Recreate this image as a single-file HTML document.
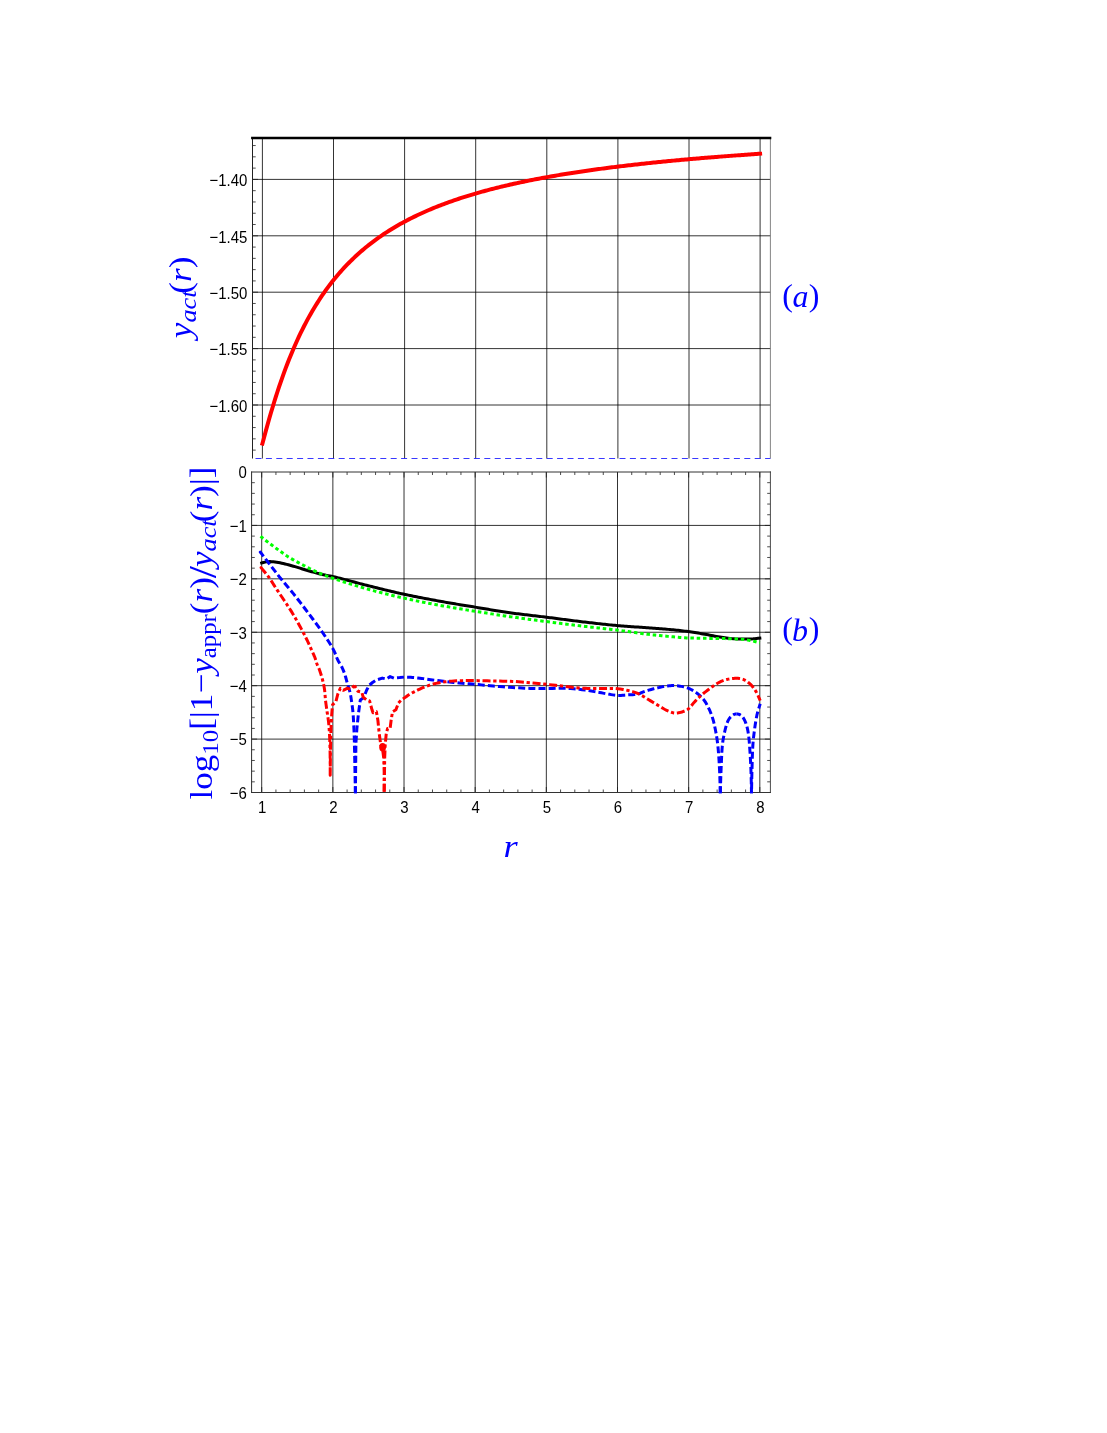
<!DOCTYPE html>
<html><head><meta charset="utf-8"><title>plot</title>
<style>html,body{margin:0;padding:0;background:#fff}svg{display:block;will-change:transform}
text{font-family:"Liberation Sans",sans-serif}
.s{font-family:"Liberation Serif",serif}
</style></head><body>
<svg width="1107" height="1433" viewBox="0 0 1107 1433">
<rect width="1107" height="1433" fill="#fff"/>
<line x1="262.4" y1="138.0" x2="262.4" y2="458.5" stroke="#000" stroke-width="0.8"/>
<line x1="333.5" y1="138.0" x2="333.5" y2="458.5" stroke="#000" stroke-width="0.8"/>
<line x1="404.6" y1="138.0" x2="404.6" y2="458.5" stroke="#000" stroke-width="0.8"/>
<line x1="475.7" y1="138.0" x2="475.7" y2="458.5" stroke="#000" stroke-width="0.8"/>
<line x1="546.8" y1="138.0" x2="546.8" y2="458.5" stroke="#000" stroke-width="0.8"/>
<line x1="617.9" y1="138.0" x2="617.9" y2="458.5" stroke="#000" stroke-width="0.8"/>
<line x1="689" y1="138.0" x2="689" y2="458.5" stroke="#000" stroke-width="0.8"/>
<line x1="760.1" y1="138.0" x2="760.1" y2="458.5" stroke="#000" stroke-width="0.8"/>
<line x1="252.5" y1="179.4" x2="770.4" y2="179.4" stroke="#000" stroke-width="0.8"/>
<line x1="252.5" y1="235.8" x2="770.4" y2="235.8" stroke="#000" stroke-width="0.8"/>
<line x1="252.5" y1="292.2" x2="770.4" y2="292.2" stroke="#000" stroke-width="0.8"/>
<line x1="252.5" y1="348.6" x2="770.4" y2="348.6" stroke="#000" stroke-width="0.8"/>
<line x1="252.5" y1="405" x2="770.4" y2="405" stroke="#000" stroke-width="0.8"/>
<path d="M252.5 450.12h3.2M252.5 438.84h3.2M252.5 427.56h3.2M252.5 416.28h3.2M252.5 405h5.5M252.5 393.72h3.2M252.5 382.44h3.2M252.5 371.16h3.2M252.5 359.88h3.2M252.5 348.6h5.5M252.5 337.32h3.2M252.5 326.04h3.2M252.5 314.76h3.2M252.5 303.48h3.2M252.5 292.2h5.5M252.5 280.92h3.2M252.5 269.64h3.2M252.5 258.36h3.2M252.5 247.08h3.2M252.5 235.8h5.5M252.5 224.52h3.2M252.5 213.24h3.2M252.5 201.96h3.2M252.5 190.68h3.2M252.5 179.4h5.5M252.5 168.12h3.2M252.5 156.84h3.2M252.5 145.56h3.2" stroke="#1a1a1a" stroke-width="0.78" fill="none"/>
<line x1="252.5" y1="138.0" x2="252.5" y2="458.5" stroke="#222" stroke-width="1"/>
<line x1="770.4" y1="138.0" x2="770.4" y2="458.5" stroke="#777" stroke-width="0.9"/>
<line x1="255.5" y1="458.5" x2="770.4" y2="458.5" stroke="#2222ff" stroke-width="0.9" stroke-dasharray="6 4.4"/>
<line x1="251.1" y1="138.0" x2="771.3" y2="138.0" stroke="#000" stroke-width="2.3"/>
<path d="M262.4 443.68 L264.06 437.4 L265.73 431.24 L267.39 425.21 L269.06 419.31 L270.72 413.56 L272.39 407.95 L274.05 402.49 L275.72 397.17 L277.38 391.99 L279.05 386.96 L280.71 382.06 L282.37 377.3 L284.04 372.67 L285.7 368.17 L287.37 363.8 L289.03 359.55 L290.7 355.42 L292.36 351.41 L294.03 347.51 L295.69 343.72 L297.36 340.03 L299.02 336.45 L300.68 332.96 L302.35 329.57 L304.01 326.27 L305.68 323.06 L307.34 319.93 L309.01 316.89 L310.67 313.93 L312.34 311.04 L314 308.23 L315.67 305.49 L317.33 302.83 L318.99 300.23 L320.66 297.69 L322.32 295.22 L323.99 292.81 L325.65 290.45 L327.32 288.16 L328.98 285.92 L330.65 283.73 L332.31 281.6 L333.98 279.51 L335.64 277.47 L337.3 275.48 L338.97 273.54 L340.63 271.64 L342.3 269.78 L343.96 267.96 L345.63 266.19 L347.29 264.45 L348.96 262.75 L350.62 261.08 L352.29 259.45 L353.95 257.86 L355.61 256.3 L357.28 254.77 L358.94 253.27 L360.61 251.8 L362.27 250.37 L363.94 248.96 L365.6 247.58 L367.27 246.22 L368.93 244.9 L370.6 243.59 L372.26 242.32 L373.92 241.07 L375.59 239.84 L377.25 238.63 L378.92 237.45 L380.58 236.29 L382.25 235.15 L383.91 234.03 L385.58 232.93 L387.24 231.85 L388.91 230.79 L390.57 229.75 L392.23 228.73 L393.9 227.72 L395.56 226.73 L397.23 225.76 L398.89 224.8 L400.56 223.87 L402.22 222.94 L403.89 222.03 L405.55 221.14 L407.22 220.26 L408.88 219.4 L410.54 218.55 L412.21 217.71 L413.87 216.89 L415.54 216.08 L417.2 215.28 L418.87 214.5 L420.53 213.72 L422.2 212.96 L423.86 212.21 L425.53 211.47 L427.19 210.75 L428.85 210.03 L430.52 209.32 L432.18 208.63 L433.85 207.94 L435.51 207.27 L437.18 206.6 L438.84 205.94 L440.51 205.3 L442.17 204.66 L443.84 204.03 L445.5 203.41 L447.16 202.8 L448.83 202.2 L450.49 201.6 L452.16 201.02 L453.82 200.44 L455.49 199.87 L457.15 199.3 L458.82 198.75 L460.48 198.2 L462.15 197.66 L463.81 197.12 L465.47 196.6 L467.14 196.08 L468.8 195.56 L470.47 195.06 L472.13 194.55 L473.8 194.06 L475.46 193.57 L477.13 193.09 L478.79 192.61 L480.46 192.14 L482.12 191.68 L483.78 191.22 L485.45 190.77 L487.11 190.32 L488.78 189.88 L490.44 189.44 L492.11 189.01 L493.77 188.58 L495.44 188.16 L497.1 187.74 L498.77 187.33 L500.43 186.92 L502.09 186.52 L503.76 186.12 L505.42 185.72 L507.09 185.33 L508.75 184.95 L510.42 184.57 L512.08 184.19 L513.75 183.82 L515.41 183.45 L517.08 183.09 L518.74 182.73 L520.41 182.37 L522.07 182.02 L523.73 181.67 L525.4 181.32 L527.06 180.98 L528.73 180.64 L530.39 180.31 L532.06 179.98 L533.72 179.65 L535.39 179.33 L537.05 179.01 L538.72 178.69 L540.38 178.37 L542.04 178.06 L543.71 177.75 L545.37 177.45 L547.04 177.15 L548.7 176.85 L550.37 176.55 L552.03 176.26 L553.7 175.97 L555.36 175.68 L557.03 175.4 L558.69 175.12 L560.35 174.84 L562.02 174.56 L563.68 174.29 L565.35 174.02 L567.01 173.75 L568.68 173.48 L570.34 173.22 L572.01 172.96 L573.67 172.7 L575.34 172.44 L577 172.19 L578.66 171.94 L580.33 171.69 L581.99 171.44 L583.66 171.2 L585.32 170.95 L586.99 170.71 L588.65 170.48 L590.32 170.24 L591.98 170 L593.65 169.77 L595.31 169.54 L596.97 169.32 L598.64 169.09 L600.3 168.87 L601.97 168.64 L603.63 168.42 L605.3 168.2 L606.96 167.99 L608.63 167.77 L610.29 167.56 L611.96 167.35 L613.62 167.14 L615.28 166.93 L616.95 166.73 L618.61 166.52 L620.28 166.32 L621.94 166.12 L623.61 165.92 L625.27 165.72 L626.94 165.53 L628.6 165.33 L630.27 165.14 L631.93 164.95 L633.59 164.76 L635.26 164.57 L636.92 164.39 L638.59 164.2 L640.25 164.02 L641.92 163.83 L643.58 163.65 L645.25 163.47 L646.91 163.3 L648.58 163.12 L650.24 162.94 L651.9 162.77 L653.57 162.6 L655.23 162.43 L656.9 162.26 L658.56 162.09 L660.23 161.92 L661.89 161.75 L663.56 161.59 L665.22 161.43 L666.89 161.26 L668.55 161.1 L670.21 160.94 L671.88 160.78 L673.54 160.63 L675.21 160.47 L676.87 160.31 L678.54 160.16 L680.2 160.01 L681.87 159.85 L683.53 159.7 L685.2 159.55 L686.86 159.4 L688.52 159.26 L690.19 159.11 L691.85 158.96 L693.52 158.82 L695.18 158.68 L696.85 158.53 L698.51 158.39 L700.18 158.25 L701.84 158.11 L703.51 157.97 L705.17 157.83 L706.83 157.7 L708.5 157.56 L710.16 157.43 L711.83 157.29 L713.49 157.16 L715.16 157.03 L716.82 156.89 L718.49 156.76 L720.15 156.63 L721.82 156.51 L723.48 156.38 L725.14 156.25 L726.81 156.12 L728.47 156 L730.14 155.87 L731.8 155.75 L733.47 155.63 L735.13 155.5 L736.8 155.38 L738.46 155.26 L740.13 155.14 L741.79 155.02 L743.45 154.91 L745.12 154.79 L746.78 154.67 L748.45 154.55 L750.11 154.44 L751.78 154.32 L753.44 154.21 L755.11 154.1 L756.77 153.98 L758.44 153.87 L760.1 153.76" stroke="#ff0000" stroke-width="4" fill="none" stroke-linejoin="round" stroke-linecap="square"/>
<line x1="261.7" y1="472.0" x2="261.7" y2="792.5" stroke="#000" stroke-width="0.8"/>
<line x1="332.86" y1="472.0" x2="332.86" y2="792.5" stroke="#000" stroke-width="0.8"/>
<line x1="404.02" y1="472.0" x2="404.02" y2="792.5" stroke="#000" stroke-width="0.8"/>
<line x1="475.18" y1="472.0" x2="475.18" y2="792.5" stroke="#000" stroke-width="0.8"/>
<line x1="546.34" y1="472.0" x2="546.34" y2="792.5" stroke="#000" stroke-width="0.8"/>
<line x1="617.5" y1="472.0" x2="617.5" y2="792.5" stroke="#000" stroke-width="0.8"/>
<line x1="688.66" y1="472.0" x2="688.66" y2="792.5" stroke="#000" stroke-width="0.8"/>
<line x1="759.82" y1="472.0" x2="759.82" y2="792.5" stroke="#000" stroke-width="0.8"/>
<line x1="251.6" y1="739.1" x2="770.4" y2="739.1" stroke="#000" stroke-width="0.8"/>
<line x1="251.6" y1="685.68" x2="770.4" y2="685.68" stroke="#000" stroke-width="0.8"/>
<line x1="251.6" y1="632.26" x2="770.4" y2="632.26" stroke="#000" stroke-width="0.8"/>
<line x1="251.6" y1="578.84" x2="770.4" y2="578.84" stroke="#000" stroke-width="0.8"/>
<line x1="251.6" y1="525.42" x2="770.4" y2="525.42" stroke="#000" stroke-width="0.8"/>
<path d="M261.7 792.5v-5.5M261.7 472.0v5.5M275.93 792.5v-3.0M275.93 472.0v3.0M290.16 792.5v-3.0M290.16 472.0v3.0M304.4 792.5v-3.0M304.4 472.0v3.0M318.63 792.5v-3.0M318.63 472.0v3.0M332.86 792.5v-5.5M332.86 472.0v5.5M347.09 792.5v-3.0M347.09 472.0v3.0M361.32 792.5v-3.0M361.32 472.0v3.0M375.56 792.5v-3.0M375.56 472.0v3.0M389.79 792.5v-3.0M389.79 472.0v3.0M404.02 792.5v-5.5M404.02 472.0v5.5M418.25 792.5v-3.0M418.25 472.0v3.0M432.48 792.5v-3.0M432.48 472.0v3.0M446.72 792.5v-3.0M446.72 472.0v3.0M460.95 792.5v-3.0M460.95 472.0v3.0M475.18 792.5v-5.5M475.18 472.0v5.5M489.41 792.5v-3.0M489.41 472.0v3.0M503.64 792.5v-3.0M503.64 472.0v3.0M517.88 792.5v-3.0M517.88 472.0v3.0M532.11 792.5v-3.0M532.11 472.0v3.0M546.34 792.5v-5.5M546.34 472.0v5.5M560.57 792.5v-3.0M560.57 472.0v3.0M574.8 792.5v-3.0M574.8 472.0v3.0M589.04 792.5v-3.0M589.04 472.0v3.0M603.27 792.5v-3.0M603.27 472.0v3.0M617.5 792.5v-5.5M617.5 472.0v5.5M631.73 792.5v-3.0M631.73 472.0v3.0M645.96 792.5v-3.0M645.96 472.0v3.0M660.2 792.5v-3.0M660.2 472.0v3.0M674.43 792.5v-3.0M674.43 472.0v3.0M688.66 792.5v-5.5M688.66 472.0v5.5M702.89 792.5v-3.0M702.89 472.0v3.0M717.12 792.5v-3.0M717.12 472.0v3.0M731.36 792.5v-3.0M731.36 472.0v3.0M745.59 792.5v-3.0M745.59 472.0v3.0M759.82 792.5v-5.5M759.82 472.0v5.5M251.6 482.68h3.2M770.4 482.68h-3.2M251.6 493.37h3.2M770.4 493.37h-3.2M251.6 504.05h3.2M770.4 504.05h-3.2M251.6 514.74h3.2M770.4 514.74h-3.2M251.6 525.42h5.5M770.4 525.42h-5.5M251.6 536.1h3.2M770.4 536.1h-3.2M251.6 546.79h3.2M770.4 546.79h-3.2M251.6 557.47h3.2M770.4 557.47h-3.2M251.6 568.16h3.2M770.4 568.16h-3.2M251.6 578.84h5.5M770.4 578.84h-5.5M251.6 589.52h3.2M770.4 589.52h-3.2M251.6 600.21h3.2M770.4 600.21h-3.2M251.6 610.89h3.2M770.4 610.89h-3.2M251.6 621.58h3.2M770.4 621.58h-3.2M251.6 632.26h5.5M770.4 632.26h-5.5M251.6 642.94h3.2M770.4 642.94h-3.2M251.6 653.63h3.2M770.4 653.63h-3.2M251.6 664.31h3.2M770.4 664.31h-3.2M251.6 675h3.2M770.4 675h-3.2M251.6 685.68h5.5M770.4 685.68h-5.5M251.6 696.36h3.2M770.4 696.36h-3.2M251.6 707.05h3.2M770.4 707.05h-3.2M251.6 717.73h3.2M770.4 717.73h-3.2M251.6 728.42h3.2M770.4 728.42h-3.2M251.6 739.1h5.5M770.4 739.1h-5.5M251.6 749.78h3.2M770.4 749.78h-3.2M251.6 760.47h3.2M770.4 760.47h-3.2M251.6 771.15h3.2M770.4 771.15h-3.2M251.6 781.84h3.2M770.4 781.84h-3.2" stroke="#1a1a1a" stroke-width="0.78" fill="none"/>
<path d="M251.6 471.5V793.0" stroke="#2a2a2a" stroke-width="1" fill="none"/>
<path d="M770.4 471.5V793.0" stroke="#4a4a4a" stroke-width="1" fill="none"/>
<path d="M251.1 472.0H770.9M251.1 792.5H770.9" stroke="#333" stroke-width="1" fill="none"/>
<path d="M261.7 562.97 L263.37 562.5 L265.03 562.12 L266.7 561.85 L268.36 561.64 L270.03 561.59 L271.7 561.65 L273.36 561.76 L275.03 561.9 L276.69 562.16 L278.36 562.49 L280.03 562.82 L281.69 563.18 L283.36 563.56 L285.02 563.97 L286.69 564.39 L288.36 564.82 L290.02 565.27 L291.69 565.72 L293.35 566.18 L295.02 566.65 L296.69 567.15 L298.35 567.66 L300.02 568.19 L301.68 568.73 L303.35 569.26 L305.01 569.78 L306.68 570.28 L308.35 570.77 L310.01 571.24 L311.68 571.71 L313.34 572.18 L315.01 572.63 L316.68 573.08 L318.34 573.51 L320.01 573.93 L321.67 574.33 L323.34 574.7 L325.01 575.04 L326.67 575.37 L328.34 575.68 L330 576 L331.67 576.34 L333.34 576.7 L335 577.08 L336.67 577.47 L338.33 577.88 L340 578.29 L341.67 578.71 L343.33 579.14 L345 579.58 L346.66 580.02 L348.33 580.47 L350 580.92 L351.66 581.37 L353.33 581.82 L354.99 582.27 L356.66 582.72 L358.33 583.16 L359.99 583.6 L361.66 584.04 L363.32 584.47 L364.99 584.89 L366.66 585.3 L368.32 585.72 L369.99 586.13 L371.65 586.55 L373.32 586.96 L374.98 587.37 L376.65 587.79 L378.32 588.2 L379.98 588.61 L381.65 589.02 L383.31 589.43 L384.98 589.84 L386.65 590.24 L388.31 590.64 L389.98 591.04 L391.64 591.43 L393.31 591.82 L394.98 592.21 L396.64 592.59 L398.31 592.97 L399.97 593.34 L401.64 593.71 L403.31 594.07 L404.97 594.43 L406.64 594.78 L408.3 595.13 L409.97 595.48 L411.64 595.82 L413.3 596.16 L414.97 596.5 L416.63 596.83 L418.3 597.16 L419.97 597.49 L421.63 597.81 L423.3 598.14 L424.96 598.46 L426.63 598.77 L428.3 599.09 L429.96 599.4 L431.63 599.71 L433.29 600.02 L434.96 600.32 L436.63 600.63 L438.29 600.93 L439.96 601.23 L441.62 601.53 L443.29 601.83 L444.95 602.12 L446.62 602.41 L448.29 602.7 L449.95 602.98 L451.62 603.27 L453.28 603.55 L454.95 603.83 L456.62 604.11 L458.28 604.38 L459.95 604.66 L461.61 604.93 L463.28 605.2 L464.95 605.48 L466.61 605.75 L468.28 606.02 L469.94 606.29 L471.61 606.57 L473.28 606.84 L474.94 607.11 L476.61 607.39 L478.27 607.66 L479.94 607.94 L481.61 608.22 L483.27 608.5 L484.94 608.78 L486.6 609.06 L488.27 609.34 L489.94 609.62 L491.6 609.9 L493.27 610.17 L494.93 610.45 L496.6 610.72 L498.27 610.99 L499.93 611.25 L501.6 611.52 L503.26 611.77 L504.93 612.03 L506.6 612.27 L508.26 612.52 L509.93 612.75 L511.59 612.98 L513.26 613.21 L514.92 613.43 L516.59 613.64 L518.26 613.86 L519.92 614.06 L521.59 614.27 L523.25 614.47 L524.92 614.67 L526.59 614.86 L528.25 615.06 L529.92 615.25 L531.58 615.45 L533.25 615.64 L534.92 615.83 L536.58 616.03 L538.25 616.22 L539.91 616.42 L541.58 616.62 L543.25 616.82 L544.91 617.02 L546.58 617.23 L548.24 617.43 L549.91 617.65 L551.58 617.86 L553.24 618.07 L554.91 618.29 L556.57 618.51 L558.24 618.73 L559.91 618.94 L561.57 619.16 L563.24 619.38 L564.9 619.6 L566.57 619.82 L568.24 620.03 L569.9 620.25 L571.57 620.46 L573.23 620.68 L574.9 620.88 L576.57 621.09 L578.23 621.3 L579.9 621.5 L581.56 621.69 L583.23 621.89 L584.89 622.08 L586.56 622.28 L588.23 622.48 L589.89 622.67 L591.56 622.86 L593.22 623.06 L594.89 623.25 L596.56 623.44 L598.22 623.63 L599.89 623.81 L601.55 624 L603.22 624.18 L604.89 624.35 L606.55 624.53 L608.22 624.7 L609.88 624.87 L611.55 625.03 L613.22 625.19 L614.88 625.35 L616.55 625.5 L618.21 625.64 L619.88 625.78 L621.55 625.92 L623.21 626.05 L624.88 626.18 L626.54 626.3 L628.21 626.43 L629.88 626.55 L631.54 626.66 L633.21 626.78 L634.87 626.89 L636.54 627.01 L638.21 627.12 L639.87 627.24 L641.54 627.36 L643.2 627.47 L644.87 627.59 L646.54 627.71 L648.2 627.84 L649.87 627.97 L651.53 628.09 L653.2 628.21 L654.86 628.34 L656.53 628.46 L658.2 628.58 L659.86 628.71 L661.53 628.83 L663.19 628.96 L664.86 629.09 L666.53 629.23 L668.19 629.37 L669.86 629.51 L671.52 629.66 L673.19 629.82 L674.86 629.98 L676.52 630.16 L678.19 630.33 L679.85 630.52 L681.52 630.71 L683.19 630.91 L684.85 631.12 L686.52 631.33 L688.18 631.55 L689.85 631.78 L691.52 632.03 L693.18 632.28 L694.85 632.54 L696.51 632.82 L698.18 633.09 L699.85 633.38 L701.51 633.67 L703.18 633.95 L704.84 634.24 L706.51 634.53 L708.18 634.84 L709.84 635.16 L711.51 635.49 L713.17 635.83 L714.84 636.16 L716.51 636.47 L718.17 636.77 L719.84 637.04 L721.5 637.28 L723.17 637.5 L724.83 637.73 L726.5 637.95 L728.17 638.17 L729.83 638.37 L731.5 638.56 L733.16 638.71 L734.83 638.83 L736.5 638.91 L738.16 638.94 L739.83 638.94 L741.49 638.94 L743.16 638.94 L744.83 638.94 L746.49 638.94 L748.16 638.94 L749.82 638.94 L751.49 638.9 L753.16 638.81 L754.82 638.67 L756.49 638.51 L758.15 638.33 L759.82 638.14" stroke="#000" stroke-width="3" fill="none" stroke-linejoin="round" stroke-linecap="square"/>
<path d="M260.52 536.35 L261.7 537.28 L263.37 538.6 L265.03 539.9 L266.7 541.19 L268.36 542.47 L270.03 543.73 L271.7 544.99 L273.36 546.23 L275.03 547.47 L276.69 548.69 L278.36 549.91 L280.03 551.12 L281.69 552.33 L283.36 553.53 L285.02 554.7 L286.69 555.84 L288.36 556.91 L290.02 557.93 L291.69 558.9 L293.35 559.84 L295.02 560.76 L296.69 561.66 L298.35 562.56 L300.02 563.46 L301.68 564.37 L303.35 565.28 L305.01 566.19 L306.68 567.08 L308.35 567.94 L310.01 568.77 L311.68 569.57 L313.34 570.35 L315.01 571.11 L316.68 571.86 L318.34 572.59 L320.01 573.31 L321.67 574.01 L323.34 574.7 L325.01 575.38 L326.67 576.04 L328.34 576.68 L330 577.31 L331.67 577.9 L333.34 578.47 L335 579.02 L336.67 579.58 L338.33 580.13 L340 580.68 L341.67 581.22 L343.33 581.76 L345 582.3 L346.66 582.83 L348.33 583.36 L350 583.88 L351.66 584.4 L353.33 584.91 L354.99 585.42 L356.66 585.92 L358.33 586.42 L359.99 586.91 L361.66 587.4 L363.32 587.88 L364.99 588.35 L366.66 588.81 L368.32 589.27 L369.99 589.73 L371.65 590.18 L373.32 590.63 L374.98 591.08 L376.65 591.52 L378.32 591.96 L379.98 592.39 L381.65 592.82 L383.31 593.24 L384.98 593.67 L386.65 594.08 L388.31 594.5 L389.98 594.9 L391.64 595.31 L393.31 595.71 L394.98 596.1 L396.64 596.5 L398.31 596.88 L399.97 597.27 L401.64 597.64 L403.31 598.02 L404.97 598.39 L406.64 598.75 L408.3 599.12 L409.97 599.47 L411.64 599.83 L413.3 600.18 L414.97 600.52 L416.63 600.86 L418.3 601.2 L419.97 601.54 L421.63 601.87 L423.3 602.2 L424.96 602.53 L426.63 602.85 L428.3 603.17 L429.96 603.49 L431.63 603.8 L433.29 604.12 L434.96 604.43 L436.63 604.74 L438.29 605.04 L439.96 605.35 L441.62 605.65 L443.29 605.95 L444.95 606.24 L446.62 606.54 L448.29 606.83 L449.95 607.11 L451.62 607.4 L453.28 607.68 L454.95 607.96 L456.62 608.24 L458.28 608.52 L459.95 608.79 L461.61 609.07 L463.28 609.34 L464.95 609.61 L466.61 609.88 L468.28 610.15 L469.94 610.42 L471.61 610.69 L473.28 610.96 L474.94 611.23 L476.61 611.5 L478.27 611.76 L479.94 612.03 L481.61 612.3 L483.27 612.56 L484.94 612.83 L486.6 613.09 L488.27 613.36 L489.94 613.62 L491.6 613.88 L493.27 614.14 L494.93 614.4 L496.6 614.65 L498.27 614.91 L499.93 615.16 L501.6 615.42 L503.26 615.67 L504.93 615.91 L506.6 616.16 L508.26 616.41 L509.93 616.65 L511.59 616.89 L513.26 617.13 L514.92 617.36 L516.59 617.6 L518.26 617.83 L519.92 618.06 L521.59 618.29 L523.25 618.52 L524.92 618.74 L526.59 618.97 L528.25 619.19 L529.92 619.42 L531.58 619.64 L533.25 619.86 L534.92 620.08 L536.58 620.3 L538.25 620.52 L539.91 620.74 L541.58 620.95 L543.25 621.17 L544.91 621.39 L546.58 621.61 L548.24 621.82 L549.91 622.04 L551.58 622.26 L553.24 622.47 L554.91 622.69 L556.57 622.9 L558.24 623.12 L559.91 623.33 L561.57 623.54 L563.24 623.75 L564.9 623.96 L566.57 624.17 L568.24 624.38 L569.9 624.59 L571.57 624.8 L573.23 625.01 L574.9 625.21 L576.57 625.42 L578.23 625.62 L579.9 625.82 L581.56 626.02 L583.23 626.22 L584.89 626.41 L586.56 626.61 L588.23 626.8 L589.89 626.99 L591.56 627.17 L593.22 627.36 L594.89 627.54 L596.56 627.72 L598.22 627.91 L599.89 628.09 L601.55 628.27 L603.22 628.46 L604.89 628.64 L606.55 628.83 L608.22 629.02 L609.88 629.21 L611.55 629.41 L613.22 629.6 L614.88 629.8 L616.55 630.01 L618.21 630.21 L619.88 630.43 L621.55 630.65 L623.21 630.88 L624.88 631.11 L626.54 631.35 L628.21 631.59 L629.88 631.83 L631.54 632.07 L633.21 632.31 L634.87 632.56 L636.54 632.8 L638.21 633.03 L639.87 633.26 L641.54 633.49 L643.2 633.71 L644.87 633.93 L646.54 634.14 L648.2 634.33 L649.87 634.52 L651.53 634.71 L653.2 634.89 L654.86 635.07 L656.53 635.25 L658.2 635.42 L659.86 635.59 L661.53 635.75 L663.19 635.91 L664.86 636.07 L666.53 636.23 L668.19 636.38 L669.86 636.53 L671.52 636.67 L673.19 636.82 L674.86 636.96 L676.52 637.11 L678.19 637.26 L679.85 637.41 L681.52 637.55 L683.19 637.68 L684.85 637.79 L686.52 637.89 L688.18 637.96 L689.85 638.01 L691.52 638.06 L693.18 638.1 L694.85 638.14 L696.51 638.17 L698.18 638.2 L699.85 638.23 L701.51 638.26 L703.18 638.29 L704.84 638.31 L706.51 638.33 L708.18 638.36 L709.84 638.39 L711.51 638.41 L713.17 638.44 L714.84 638.48 L716.51 638.5 L718.17 638.53 L719.84 638.55 L721.5 638.58 L723.17 638.6 L724.83 638.62 L726.5 638.65 L728.17 638.68 L729.83 638.71 L731.5 638.74 L733.16 638.78 L734.83 638.83 L736.5 638.88 L738.16 638.94 L739.83 639.03 L741.49 639.18 L743.16 639.37 L744.83 639.61 L746.49 639.87 L748.16 640.14 L749.82 640.42 L751.49 640.74 L753.16 641.11 L754.82 641.52 L756.49 641.96 L758.15 642.44 L759.82 642.94" stroke="#00ff00" stroke-width="3" fill="none" stroke-dasharray="3.5 2.8"/>
<path d="M355.4 793.3 L355.29 787.41 L355.12 778.94 L354.93 769.06 L354.73 758.99 L354.55 749.9 L354.4 743 L354.29 738.51 L354.21 735.53 L354.14 733.54 L354.08 732.03 L354 730.48 L353.9 728.4 L353.78 725.8 L353.65 723.1 L353.51 720.37 L353.36 717.68 L353.19 715.1 L353 712.7 L352.78 710.48 L352.54 708.4 L352.29 706.42 L352.02 704.54 L351.76 702.74 L351.5 701 L351.26 699.35 L351.03 697.81 L350.81 696.36 L350.57 694.95 L350.3 693.58 L350 692.2 L349.65 690.85 L349.27 689.56 L348.86 688.3 L348.43 687.04 L348.01 685.75 L347.6 684.4 L347.21 682.98 L346.82 681.5 L346.44 680 L346.04 678.5 L345.63 677.02 L345.2 675.6 L344.75 674.24 L344.3 672.93 L343.82 671.64 L343.33 670.36 L342.79 669.09 L342.2 667.8 L341.55 666.54 L340.86 665.33 L340.12 664.12 L339.36 662.87 L338.58 661.51 L337.8 660 L337.07 658.37 L336.41 656.66 L335.72 654.85 L334.95 652.92 L334.02 650.85 L332.86 648.61 L331.46 646.17 L329.86 643.56 L328.11 640.81 L326.23 637.94 L324.25 634.99 L322.19 631.99 L320.01 628.9 L317.67 625.67 L315.23 622.35 L312.75 619.01 L310.25 615.69 L307.81 612.44 L305.41 609.25 L303 606.06 L300.59 602.9 L298.18 599.77 L295.77 596.68 L293.37 593.64 L291 590.73 L288.68 587.95 L286.36 585.21 L284 582.42 L281.56 579.49 L278.99 576.33 L276.08 572.63 L272.82 568.42 L269.47 564.06 L266.32 559.94 L263.64 556.43 L261.7 553.89 L260.65 552.53 L260.29 552.07 L260.41 552.21 L260.76 552.67 L261.12 553.15 L261.27 553.34" stroke="#0000ff" stroke-width="3" fill="none" stroke-dasharray="7.0 3.15" stroke-linejoin="round"/>
<path d="M355.4 793.3 L355.9 743 L356.9 728.4 L358.3 714.7 L360.3 700 L363.2 698.1 L364.7 695.2 L366.6 690.3 L369.1 685.4 L372.5 682.5 L376.4 680 L382.3 678.1 L386.2 679 L390.1 676.6 L394 678.1 L399.8 677.6 L404.2 677.1 L404.87 677.11 L405.75 677.12 L406.82 677.13 L408.04 677.16 L409.37 677.21 L410.8 677.3 L412.37 677.43 L414.12 677.59 L415.99 677.77 L417.91 677.97 L419.84 678.18 L421.7 678.4 L423.5 678.63 L425.3 678.88 L427.1 679.14 L428.9 679.4 L430.7 679.66 L432.5 679.9 L434.29 680.13 L436.05 680.34 L437.81 680.55 L439.61 680.76 L441.46 680.97 L443.4 681.2 L445.38 681.44 L447.36 681.68 L449.39 681.93 L451.54 682.19 L453.86 682.44 L456.4 682.7 L459.23 682.96 L462.33 683.22 L465.6 683.49 L468.93 683.76 L472.23 684.03 L475.4 684.3 L478.42 684.58 L481.36 684.87 L484.27 685.16 L487.19 685.44 L490.15 685.73 L493.2 686 L496.38 686.27 L499.65 686.54 L502.97 686.8 L506.29 687.05 L509.55 687.29 L512.7 687.5 L515.73 687.69 L518.69 687.87 L521.59 688.03 L524.44 688.17 L527.28 688.3 L530.1 688.4 L532.88 688.48 L535.6 688.54 L538.3 688.58 L541.01 688.6 L543.76 688.61 L546.6 688.6 L549.55 688.55 L552.57 688.44 L555.64 688.32" stroke="#0000ff" stroke-width="3" fill="none" stroke-dasharray="7.0 3.15" stroke-linejoin="round"/>
<path d="M720.3 793.3 L720.22 790.63 L720.12 786.91 L720 782.52 L719.86 777.82 L719.69 773.16 L719.5 768.9 L719.29 764.93 L719.06 760.94 L718.81 756.99 L718.53 753.16 L718.23 749.51 L717.9 746.1 L717.54 742.97 L717.16 740.06 L716.75 737.34 L716.32 734.75 L715.87 732.25 L715.4 729.8 L714.93 727.42 L714.45 725.16 L713.95 722.99 L713.42 720.89 L712.84 718.84 L712.2 716.8 L711.48 714.76 L710.69 712.73 L709.86 710.74 L709 708.84 L708.14 707.04 L707.3 705.4 L706.5 703.93 L705.73 702.6 L704.95 701.39 L704.15 700.26 L703.31 699.18 L702.4 698.1 L701.42 697.04 L700.38 696.02 L699.3 695.04 L698.19 694.11 L697.05 693.23 L695.9 692.4 L694.73 691.61 L693.53 690.87 L692.3 690.17 L691.06 689.52 L689.83 688.93 L688.6 688.4 L687.39 687.94 L686.2 687.54 L685 687.2 L683.79 686.9 L682.56 686.64 L681.3 686.4 L680 686.18 L678.66 685.99 L677.31 685.83 L675.94 685.71 L674.57 685.63 L673.2 685.6 L671.86 685.61 L670.53 685.67 L669.2 685.77 L667.85 685.91 L666.45 686.08 L665 686.3 L663.47 686.56 L661.88 686.87 L660.25 687.22 L658.6 687.6 L656.94 688 L655.3 688.4 L653.65 688.81 L651.98 689.24 L650.3 689.69 L648.64 690.16 L647.04 690.63 L645.5 691.1 L644.07 691.61 L642.74 692.16 L641.45 692.72 L640.16 693.25 L638.83 693.72 L637.4 694.1 L635.87 694.36 L634.27 694.54 L632.62 694.66 L630.94 694.74 L629.26 694.81 L627.6 694.9 L625.94 695.02 L624.26 695.16 L622.58 695.28 L620.9 695.38 L619.24 695.42 L617.6 695.4 L615.98 695.29 L614.36 695.11 L612.76 694.88 L611.18 694.62 L609.63 694.35 L608.1 694.1 L606.72 693.86 L605.49 693.63 L604.29 693.39 L602.99 693.13 L601.43 692.84 L599.5 692.5 L597.11 692.09 L594.35 691.61 L591.34 691.09 L588.22 690.58 L585.1 690.11 L582.1 689.7 L579.22 689.35 L576.36 689.03 L573.5 688.75 L570.63 688.51 L567.73 688.33 L564.8 688.2 L561.8 688.16 L558.74 688.21 L555.65 688.32 L555.64 688.32" stroke="#0000ff" stroke-width="3" fill="none" stroke-dasharray="7.0 3.02" stroke-linejoin="round"/>
<path d="M720.3 793.3 L720.38 790.63 L720.49 786.91 L720.62 782.52 L720.77 777.82 L720.93 773.16 L721.1 768.9 L721.27 764.89 L721.44 760.82 L721.62 756.79 L721.82 752.91 L722.04 749.31 L722.3 746.1 L722.59 743.35 L722.89 740.98 L723.23 738.89 L723.59 736.95 L723.98 735.06 L724.4 733.1 L724.86 731.04 L725.35 728.97 L725.88 726.94 L726.43 725.02 L727 723.25 L727.6 721.7 L728.22 720.38 L728.87 719.24 L729.54 718.27 L730.24 717.42 L730.96 716.68 L731.7 716 L732.46 715.39 L733.26 714.87 L734.07 714.45 L734.9 714.14 L735.75 713.95 L736.48 713.91" stroke="#0000ff" stroke-width="3" fill="none" stroke-dasharray="7.0 3.15" stroke-linejoin="round"/>
<path d="M751.5 793.3 L751.44 790.63 L751.37 786.91 L751.28 782.52 L751.17 777.82 L751.05 773.16 L750.9 768.9 L750.72 764.89 L750.52 760.81 L750.29 756.77 L750.06 752.89 L749.82 749.3 L749.6 746.1 L749.39 743.37 L749.2 741.01 L749.01 738.94 L748.81 737.04 L748.57 735.23 L748.3 733.4 L747.99 731.57 L747.67 729.83 L747.32 728.17 L746.93 726.58 L746.49 725.06 L746 723.6 L745.45 722.17 L744.84 720.77 L744.19 719.43 L743.5 718.2 L742.77 717.11 L742 716.2 L741.18 715.47 L740.29 714.89 L739.36 714.46 L738.41 714.15 L737.49 713.97 L736.6 713.9 L736.48 713.91" stroke="#0000ff" stroke-width="3" fill="none" stroke-dasharray="7.0 3.15" stroke-dashoffset="1" stroke-linejoin="round"/>
<path d="M751.5 793.3 L751.55 790.63 L751.62 786.91 L751.7 782.52 L751.79 777.82 L751.89 773.16 L752 768.9 L752.11 764.93 L752.21 760.94 L752.33 756.99 L752.46 753.16 L752.61 749.51 L752.8 746.1 L753.02 742.99 L753.27 740.12 L753.55 737.44 L753.85 734.87 L754.17 732.34 L754.5 729.8 L754.85 727.23 L755.21 724.69 L755.6 722.19 L756.01 719.77 L756.44 717.43 L756.9 715.2 L757.44 712.98 L758.06 710.74 L758.7 708.59 L759.31 706.64 L759.83 705 L760.2 703.8" stroke="#0000ff" stroke-width="3" fill="none" stroke-dasharray="7.0 3.15" stroke-dashoffset="6" stroke-linejoin="round"/>
<path d="M261.26 567.86 L261.23 567.82 L261.13 567.69 L261.04 567.58 L261.04 567.59 L261.24 567.83 L261.7 568.4 L262.51 569.38 L263.61 570.7 L264.89 572.24 L266.25 573.91 L267.59 575.6 L268.8 577.2 L269.89 578.75 L270.93 580.32 L271.96 581.92 L272.97 583.52 L273.98 585.12 L275 586.7 L276.03 588.26 L277.07 589.82 L278.11 591.38 L279.14 592.92 L280.17 594.46 L281.2 596 L282.22 597.51 L283.23 599 L284.23 600.49 L285.24 601.99 L286.26 603.52 L287.3 605.1 L288.37 606.75 L289.46 608.44 L290.57 610.18 L291.67 611.92 L292.75 613.67 L293.8 615.4 L294.83 617.16 L295.87 618.97 L296.88 620.77 L297.86 622.53 L298.77 624.19 L299.6 625.7 L300.32 627 L300.93 628.12 L301.49 629.14 L302.02 630.14 L302.58 631.2 L303.2 632.4 L303.9 633.75 L304.64 635.21 L305.4 636.72 L306.16 638.25 L306.9 639.76 L307.6 641.2 L308.25 642.58 L308.86 643.92 L309.45 645.24 L310.03 646.56 L310.61 647.87 L311.2 649.2 L311.82 650.56 L312.45 651.94 L313.09 653.33 L313.7 654.7 L314.28 656.03 L314.8 657.3 L315.24 658.5 L315.61 659.64 L315.95 660.74 L316.27 661.82 L316.61 662.9 L317 664 L317.43 665.08 L317.89 666.12 L318.36 667.16 L318.84 668.24 L319.32 669.4 L319.8 670.7 L320.29 672.17 L320.8 673.77 L321.31 675.47 L321.81 677.19 L322.28 678.89 L322.7 680.5 L323.07 681.99 L323.41 683.4 L323.71 684.78 L323.99 686.19 L324.25 687.68 L324.5 689.3 L324.72 691.09 L324.9 693.02 L325.07 695.02 L325.23 697.06 L325.4 699.07 L325.6 701 L325.83 702.85 L326.07 704.67 L326.33 706.46 L326.59 708.24 L326.85 710.02 L327.1 711.8 L327.36 713.58 L327.62 715.34 L327.89 717.09 L328.14 718.86 L328.38 720.66 L328.6 722.5 L328.79 724.37 L328.96 726.25 L329.11 728.16 L329.25 730.11 L329.38 732.12 L329.5 734.2 L329.61 736.36 L329.71 738.59 L329.79 740.87 L329.87 743.19 L329.94 745.54 L330 747.9 L330.05 750.3 L330.1 752.77 L330.13 755.26 L330.16 757.74 L330.18 760.17 L330.2 762.5 L330.21 764.87 L330.21 767.34 L330.21 769.76 L330.21 771.98 L330.2 773.84 L330.2 775.2 L330.5 747.9 L331 728.4 L331.7 714.7 L332.5 704.9 L335.9 701.5 L337.8 694.2 L340.3 688.3 L343.2 690.3 L347.1 688.3 L351 689.3 L354.4 685.4" stroke="#ff0000" stroke-width="3" fill="none" stroke-dasharray="8 2.7 3.3 2.7" stroke-linejoin="round"/>
<path d="M384.2 791.8 L384.2 772.3 L383.7 757.7 L382.8 750.8 L380.8 745 L379.3 734.2 L377.9 720.5 L376.4 711.8 L373 712.7 L372 709.8 L369.6 701 L366.6 700 L363.2 697.1 L361.8 692.2 L357.9 691.3 L354.4 685.4" stroke="#ff0000" stroke-width="3" fill="none" stroke-dasharray="8 2.7 3.3 2.7" stroke-linejoin="round"/>
<path d="M384.2 791.8 L384.7 757.7 L385.2 745 L386.2 734.2 L387.6 728.4 L390.1 728.4 L391.1 720.5 L392.5 711.8 L395.9 709.8 L398.4 703 L401.3 700 L404.2 698.1 L404.87 697.62 L405.75 696.97 L406.82 696.19 L408.04 695.33 L409.37 694.45 L410.8 693.6 L412.37 692.73 L414.12 691.81 L415.99 690.86 L417.91 689.92 L419.84 689.02 L421.7 688.2 L423.5 687.44 L425.3 686.73 L427.1 686.05 L428.9 685.42 L430.7 684.83 L432.5 684.3 L434.29 683.82 L436.05 683.41 L437.81 683.04 L439.61 682.7 L441.46 682.39 L443.4 682.1 L445.38 681.82 L447.36 681.56 L449.39 681.33 L451.54 681.12 L453.86 680.94 L456.4 680.8 L459.23 680.7 L462.33 680.63 L465.6 680.59 L468.93 680.58 L472.23 680.59 L475.4 680.6 L478.42 680.63 L481.36 680.69 L484.27 680.76 L487.19 680.84 L490.15 680.93 L493.2 681 L496.38 681.06 L499.65 681.1 L502.97 681.14 L506.29 681.2 L509.55 681.28 L512.7 681.4 L515.73 681.56 L518.69 681.76 L521.59 681.98 L524.44 682.21 L527.28 682.46 L530.1 682.7 L532.88 682.94 L535.6 683.19 L538.3 683.45 L541.01 683.72 L543.76 684 L546.6 684.3 L549.55 684.62 L552.57 684.97 L555.65 685.34 L558.74 685.7 L561.8 686.06 L564.8 686.4 L567.73 686.74 L570.63 687.08 L573.5 687.42 L576.36 687.73 L579.22 688 L582.1 688.2 L584.99 688.32 L587.87 688.38 L590.75 688.39 L593.64 688.39 L596.56 688.38 L599.5 688.4 L602.51 688.41 L605.6 688.4 L608.71 688.38 L611.78 688.4 L614.76 688.5 L617.6 688.7 L620.35 689.03 L623.05 689.46 L625.67 689.96 L628.15 690.51 L630.44 691.06 L632.5 691.6 L634.26 692.11 L635.73 692.61 L637.02 693.12 L638.22 693.67 L639.42 694.25 L640.7 694.9 L642.06 695.63 L643.41 696.42 L644.76 697.26 L646.1 698.11 L647.45 698.97 L648.8 699.8 L650.15 700.6 L651.5 701.4 L652.85 702.2 L654.2 703 L655.55 703.8 L656.9 704.6 L658.27 705.44 L659.66 706.3 L661.05 707.18 L662.42 708.02 L663.74 708.8 L665 709.5 L666.19 710.11 L667.34 710.66 L668.45 711.16 L669.51 711.59 L670.53 711.97 L671.5 712.3 L672.39 712.58 L673.19 712.8 L673.95 712.97 L674.71 713.08 L675.51 713.12 L676.4 713.1 L677.4 713 L678.48 712.82 L679.6 712.58 L680.73 712.29 L681.84 711.96 L682.9 711.6 L683.9 711.24 L684.86 710.87 L685.8 710.46 L686.73 709.99 L687.66 709.41 L688.6 708.7 L689.54 707.83 L690.47 706.8 L691.4 705.68 L692.34 704.5 L693.3 703.33 L694.3 702.2 L695.32 701.12 L696.35 700.03 L697.4 698.95 L698.49 697.87 L699.61 696.78 L700.8 695.7 L702.06 694.61 L703.38 693.5 L704.74 692.4 L706.13 691.31 L707.53 690.24 L708.9 689.2 L710.26 688.18 L711.63 687.16 L713 686.17 L714.37 685.21 L715.74 684.32 L717.1 683.5 L718.44 682.76 L719.74 682.07 L721.05 681.44 L722.38 680.87 L723.75 680.36 L725.2 679.9 L726.75 679.49 L728.4 679.12 L730.1 678.81 L731.8 678.56 L733.45 678.39 L735 678.3 L736.47 678.29 L737.89 678.36 L739.26 678.49 L740.58 678.71 L741.86 679.01 L743.1 679.4 L744.29 679.89 L745.44 680.49 L746.55 681.16 L747.61 681.9 L748.63 682.69 L749.6 683.5 L750.53 684.36 L751.41 685.28 L752.26 686.25 L753.05 687.24 L753.8 688.23 L754.5 689.2 L755.14 690.15 L755.72 691.1 L756.25 692.05 L756.75 693 L757.23 693.95 L757.7 694.9 L758.19 695.92 L758.68 697.01 L759.15 698.11 L759.58 699.12 L759.94 699.98 L760.2 700.6" stroke="#ff0000" stroke-width="3" fill="none" stroke-dasharray="8 2.7 3.3 2.7" stroke-linejoin="round"/>
<ellipse cx="382.6" cy="747.3" rx="3.4" ry="4.2" fill="#ff0000"/>
<text transform="translate(247.4,186.2) scale(1,1.12)" text-anchor="end" font-family="Liberation Sans, sans-serif" font-size="15" fill="#000">−1.40</text>
<text transform="translate(247.4,242.6) scale(1,1.12)" text-anchor="end" font-family="Liberation Sans, sans-serif" font-size="15" fill="#000">−1.45</text>
<text transform="translate(247.4,299) scale(1,1.12)" text-anchor="end" font-family="Liberation Sans, sans-serif" font-size="15" fill="#000">−1.50</text>
<text transform="translate(247.4,355.4) scale(1,1.12)" text-anchor="end" font-family="Liberation Sans, sans-serif" font-size="15" fill="#000">−1.55</text>
<text transform="translate(247.4,411.8) scale(1,1.12)" text-anchor="end" font-family="Liberation Sans, sans-serif" font-size="15" fill="#000">−1.60</text>
<text transform="translate(246.9,478.3) scale(1,1.12)" text-anchor="end" font-family="Liberation Sans, sans-serif" font-size="15" fill="#000">0</text>
<text transform="translate(246.9,531.72) scale(1,1.12)" text-anchor="end" font-family="Liberation Sans, sans-serif" font-size="15" fill="#000">−1</text>
<text transform="translate(246.9,585.14) scale(1,1.12)" text-anchor="end" font-family="Liberation Sans, sans-serif" font-size="15" fill="#000">−2</text>
<text transform="translate(246.9,638.56) scale(1,1.12)" text-anchor="end" font-family="Liberation Sans, sans-serif" font-size="15" fill="#000">−3</text>
<text transform="translate(246.9,691.98) scale(1,1.12)" text-anchor="end" font-family="Liberation Sans, sans-serif" font-size="15" fill="#000">−4</text>
<text transform="translate(246.9,745.4) scale(1,1.12)" text-anchor="end" font-family="Liberation Sans, sans-serif" font-size="15" fill="#000">−5</text>
<text transform="translate(246.9,798.82) scale(1,1.12)" text-anchor="end" font-family="Liberation Sans, sans-serif" font-size="15" fill="#000">−6</text>
<text transform="translate(262.2,813.1) scale(1,1.12)" text-anchor="middle" font-family="Liberation Sans, sans-serif" font-size="15" fill="#000">1</text>
<text transform="translate(333.36,813.1) scale(1,1.12)" text-anchor="middle" font-family="Liberation Sans, sans-serif" font-size="15" fill="#000">2</text>
<text transform="translate(404.52,813.1) scale(1,1.12)" text-anchor="middle" font-family="Liberation Sans, sans-serif" font-size="15" fill="#000">3</text>
<text transform="translate(475.68,813.1) scale(1,1.12)" text-anchor="middle" font-family="Liberation Sans, sans-serif" font-size="15" fill="#000">4</text>
<text transform="translate(546.84,813.1) scale(1,1.12)" text-anchor="middle" font-family="Liberation Sans, sans-serif" font-size="15" fill="#000">5</text>
<text transform="translate(618,813.1) scale(1,1.12)" text-anchor="middle" font-family="Liberation Sans, sans-serif" font-size="15" fill="#000">6</text>
<text transform="translate(689.16,813.1) scale(1,1.12)" text-anchor="middle" font-family="Liberation Sans, sans-serif" font-size="15" fill="#000">7</text>
<text transform="translate(760.32,813.1) scale(1,1.12)" text-anchor="middle" font-family="Liberation Sans, sans-serif" font-size="15" fill="#000">8</text>
<text transform="translate(782.2,307.1) scale(1.0,1)" fill="#0000ff" class="s"><tspan font-size="32" dy="-1.2">(</tspan><tspan font-size="32" font-style="italic" dy="1.2" dx="-0.4">a</tspan><tspan font-size="32" dy="-1.2" dx="0.4">)</tspan></text>
<text transform="translate(782.2,640.6) scale(1.0,1)" fill="#0000ff" class="s"><tspan font-size="32" dy="-1.2">(</tspan><tspan font-size="32" font-style="italic" dy="1.2" dx="-0.8">b</tspan><tspan font-size="32" dy="-1.2" dx="0.8">)</tspan></text>
<text transform="translate(503.5,856.7) scale(1.14,1)" fill="#0000ff" class="s"><tspan font-size="32" font-style="italic">r</tspan></text>
<text transform="translate(190.8,338.2) rotate(-90) scale(1.097,1)" fill="#0000ff" class="s"><tspan font-size="32" font-style="italic">y</tspan><tspan font-size="24" font-style="italic" dy="4.8">act</tspan><tspan font-size="32" dy="-4.8" dx="-2.9">(</tspan><tspan font-size="32" font-style="italic">r</tspan><tspan font-size="32">)</tspan></text>
<text transform="translate(211.6,799.5) rotate(-90) scale(1.097,1)" fill="#0000ff" class="s"><tspan font-size="32">log</tspan><tspan font-size="22.6" dy="6.5">10</tspan><tspan font-size="32" dy="-6.5">[|1−</tspan><tspan font-size="32" font-style="italic">y</tspan><tspan font-size="22.6" dy="4.8">appr</tspan><tspan font-size="32" dy="-4.8">(</tspan><tspan font-size="32" font-style="italic">r</tspan><tspan font-size="32">)</tspan><tspan font-size="40" dy="4.3" dx="-1">/</tspan><tspan font-size="32" font-style="italic" dy="-4.3" dx="-1">y</tspan><tspan font-size="24" font-style="italic" dy="4.8">act</tspan><tspan font-size="32" dy="-4.8" dx="-2.7">(</tspan><tspan font-size="32" font-style="italic">r</tspan><tspan font-size="32">)|]</tspan></text>
</svg></body></html>
